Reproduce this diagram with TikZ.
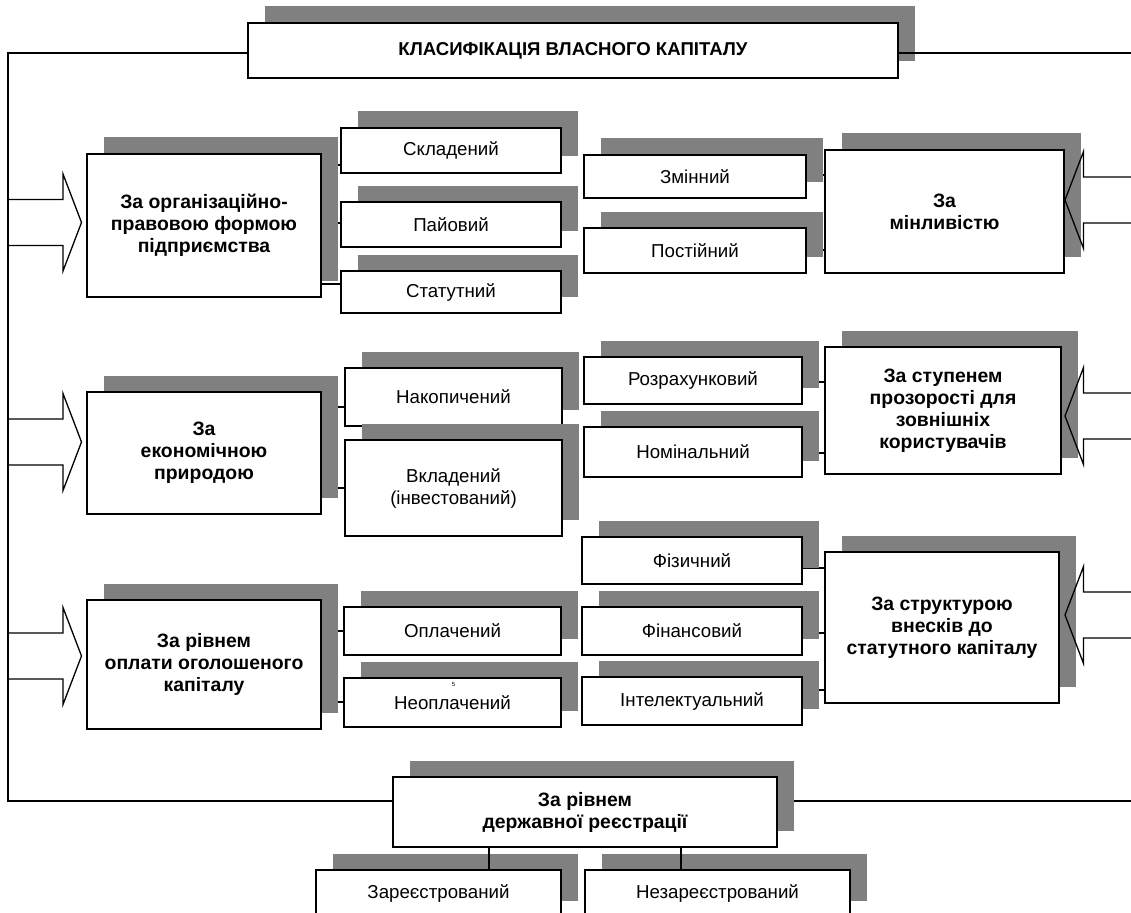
\documentclass[tikz,border=0pt]{standalone}
\usepackage{fontspec}
\setmainfont{Liberation Sans}
\usetikzlibrary{shadows}
\pgfdeclarelayer{background}
\pgfsetlayers{background,main}
\definecolor{shgray}{RGB}{128,128,128}
\tikzset{
  sbox/.style={draw=black, line width=1.6pt, fill=white, rectangle, inner sep=2pt,
    align=center, font=\fontsize{18.7}{22}\selectfont,
    drop shadow={shadow xshift=16.5pt, shadow yshift=16.5pt, fill=shgray, opacity=1}},
  catbox/.style={sbox, font=\fontsize{19.4}{22}\selectfont\bfseries},
  titlebox/.style={sbox, font=\fontsize{18.6}{22}\selectfont\bfseries},
  conn/.style={line width=1.6pt},
  blockarrow/.style={line width=1.3pt, line join=miter},
  arrowin/.pic={\draw[blockarrow] (-73.5,-23) -- (-18.5,-23) -- (-18.5,-48.5) -- (0,0)
      -- (-18.5,48.5) -- (-18.5,23) -- (-73.5,23);}
}
\begin{document}
\begin{tikzpicture}[x=1pt,y=-1pt]
\useasboundingbox (0,0) rectangle (1131,912);
\begin{pgfonlayer}{background}
\fill[white] (0,0) rectangle (1131,912);
\end{pgfonlayer}

% frame corners
\coordinate (ftl) at (8,53);
\coordinate (fbl) at (8,801);
\coordinate (ftr) at (1131,53);
\coordinate (fbr) at (1131,801);

% title
\node[titlebox, minimum width=650pt, minimum height=55pt] (title) at (573,50.5) {КЛАСИФІКАЦІЯ ВЛАСНОГО КАПІТАЛУ};

% row 1 left
\node[catbox, minimum width=234pt, minimum height=143pt] (org) at (204,225.5) {За організаційно-\\правовою формою\\підприємства};
\node[sbox, minimum width=220pt, minimum height=45pt] (skl) at (451,150.5) {Складений};
\node[sbox, minimum width=220pt, minimum height=45pt] (pai) at (451,224.5) {Пайовий};
\node[sbox, minimum width=220pt, minimum height=42pt] (stat) at (451,292) {Статутний};

% row 1 right
\node[sbox, minimum width=222pt, minimum height=43pt] (zmin) at (695,176.5) {Змінний};
\node[sbox, minimum width=222pt, minimum height=45pt] (post) at (695,250.5) {Постійний};
\node[catbox, minimum width=239pt, minimum height=123pt] (minl) at (944.5,211.5) {За\\мінливістю};

% row 2 left
\node[catbox, minimum width=234pt, minimum height=122pt] (econ) at (204,453) {За\\економічною\\природою};
\node[sbox, minimum width=217pt, minimum height=58pt] (nak) at (453.5,397) {Накопичений};
\node[sbox, minimum width=217pt, minimum height=96pt] (vkl) at (453.5,488) {Вкладений\\(інвестований)};

% row 2 right
\node[sbox, minimum width=218pt, minimum height=47pt] (rozr) at (693,380.5) {Розрахунковий};
\node[sbox, minimum width=218pt, minimum height=50pt] (nom) at (693,452) {Номінальний};
\node[catbox, minimum width=236pt, minimum height=127pt] (proz) at (943,410.5) {За ступенем\\прозорості для\\зовнішніх\\користувачів};

% row 3 left
\node[catbox, minimum width=234pt, minimum height=129pt] (oplr) at (204,664.5) {За рівнем\\оплати оголошеного\\капіталу};
\node[sbox, minimum width=217pt, minimum height=48pt] (oplach) at (452.5,631) {Оплачений};
\node[sbox, minimum width=217pt, minimum height=49pt] (neopl) at (452.5,702.5) {Неоплачений};
\node[font=\fontsize{6}{6}\selectfont, inner sep=0pt] (pg) at (453.5,684) {5};

% row 3 right
\node[sbox, minimum width=220pt, minimum height=47pt] (fiz) at (692,560.5) {Фізичний};
\node[sbox, minimum width=220pt, minimum height=48pt] (fin) at (692,631) {Фінансовий};
\node[sbox, minimum width=220pt, minimum height=48pt] (intel) at (692,701) {Інтелектуальний};
\node[catbox, minimum width=234pt, minimum height=151pt] (strukt) at (942,627.5) {За структурою\\внесків до\\статутного капіталу};

% bottom
\node[catbox, minimum width=384pt, minimum height=70pt] (reg) at (585,812) {За рівнем\\державної реєстрації};
\node[sbox, minimum width=245pt, minimum height=47pt] (zareg) at (438.5,893.5) {Зареєстрований};
\node[sbox, minimum width=265pt, minimum height=47pt] (nezareg) at (717.5,893.5) {Незареєстрований};

% connectors behind shadows
\begin{pgfonlayer}{background}
\draw[conn] (title.west |- ftl) -- (ftl) -- (fbl) -- (reg.west |- fbl);
\draw[conn] (reg.east |- fbr) -- (fbr);
\draw[conn] (org.east |- 0,165) -- (skl.west |- 0,165);
\draw[conn] (org.east |- 0,223) -- (pai.west |- 0,223);
\draw[conn] (org.east |- 0,284) -- (stat.west |- 0,284);
\draw[conn] (zmin.east |- 0,175) -- (minl.west |- 0,175);
\draw[conn] (post.east |- 0,250) -- (minl.west |- 0,250);
\draw[conn] (econ.east |- 0,407) -- (nak.west |- 0,407);
\draw[conn] (econ.east |- 0,488) -- (vkl.west |- 0,488);
\draw[conn] (rozr.east |- 0,382) -- (proz.west |- 0,382);
\draw[conn] (nom.east |- 0,453) -- (proz.west |- 0,453);
\draw[conn] (oplr.east |- 0,631) -- (oplach.west |- 0,631);
\draw[conn] (oplr.east |- 0,702) -- (neopl.west |- 0,702);
\draw[conn] (fiz.east |- 0,568) -- (strukt.west |- 0,568);
\draw[conn] (fin.east |- 0,633) -- (strukt.west |- 0,633);
\draw[conn] (intel.east |- 0,690) -- (strukt.west |- 0,690);
\end{pgfonlayer}

% connectors in front
\draw[conn] (title.east |- ftr) -- (ftr);
\draw[conn] (reg.south -| 489,0) -- (zareg.north -| 489,0);
\draw[conn] (reg.south -| 681,0) -- (nezareg.north -| 681,0);

% block arrows
\coordinate (la1) at (81.5,222.5);
\coordinate (la2) at (81.5,442);
\coordinate (la3) at (81.5,656);
\coordinate (ra1) at (1065,200);
\coordinate (ra2) at (1065,416);
\coordinate (ra3) at (1065,615);
\pic at (la1) {arrowin};
\pic at (la2) {arrowin};
\pic at (la3) {arrowin};
\pic[xscale=-1] at (ra1) {arrowin};
\pic[xscale=-1] at (ra2) {arrowin};
\pic[xscale=-1] at (ra3) {arrowin};
\end{tikzpicture}
\end{document}
